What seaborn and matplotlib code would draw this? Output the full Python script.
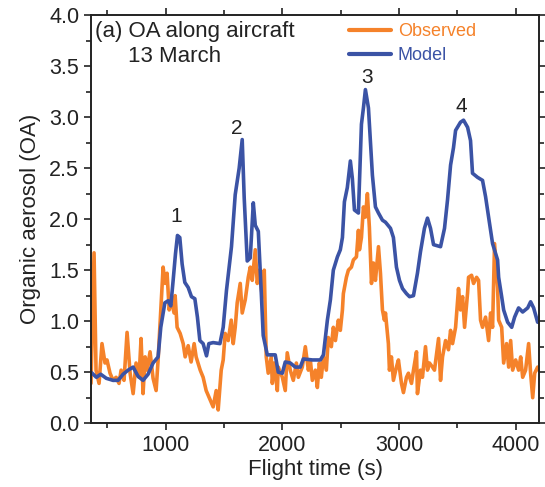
import pandas as pd
import matplotlib
matplotlib.use("Agg")
import matplotlib.pyplot as plt
import seaborn as sns
from matplotlib.ticker import MultipleLocator, FormatStrFormatter

# Observed OA (orange) - flight time (s) and value
obs_t = [360, 386, 403, 429, 454, 480, 497, 523, 549, 575, 600, 618, 643, 669, 695,
         721, 746, 772, 789, 806, 824, 841, 866, 892, 918, 935, 961, 978, 995, 1012,
         1030, 1047, 1072, 1081, 1098, 1124, 1150, 1167, 1193, 1218, 1244, 1261, 1296,
         1321, 1347, 1381, 1407, 1433, 1450, 1476, 1493, 1510, 1536, 1562, 1579, 1596,
         1613, 1639, 1656, 1682, 1708, 1725, 1742, 1768, 1785, 1802, 1828, 1845, 1862,
         1879, 1905, 1914, 1931, 1957, 1965, 2000, 2025, 2042, 2068, 2094, 2120, 2137,
         2171, 2197, 2223, 2240, 2257, 2283, 2300, 2317, 2334, 2352, 2377, 2394, 2420,
         2437, 2455, 2480, 2497, 2515, 2523, 2549, 2566, 2592, 2609, 2635, 2652, 2661,
         2678, 2695, 2712, 2729, 2746, 2764, 2781, 2798, 2824, 2841, 2858, 2875, 2884,
         2909, 2918, 2935, 2952, 2978, 2995, 3021, 3038, 3064, 3081, 3107, 3124, 3150,
         3158, 3184, 3201, 3227, 3244, 3261, 3287, 3304, 3339, 3356, 3373, 3399, 3424,
         3442, 3459, 3485, 3510, 3527, 3545, 3562, 3588, 3596, 3622, 3639, 3665, 3682,
         3699, 3716, 3742, 3768, 3785, 3802, 3819, 3845, 3854, 3880, 3897, 3922, 3940,
         3957, 3974, 4000, 4025, 4043, 4060, 4085, 4111, 4128, 4146, 4163, 4188, 4200]
obs_oa = [0.39, 1.67, 0.52, 0.39, 0.78, 0.59, 0.62, 0.49, 0.42, 0.45, 0.39, 0.52, 0.42,
          0.89, 0.49, 0.29, 0.59, 0.45, 0.83, 0.29, 0.65, 0.52, 0.70, 0.44, 0.32, 0.62,
          1.18, 1.53, 1.37, 1.47, 1.11, 1.21, 1.08, 1.25, 0.94, 0.88, 0.78, 0.65, 0.76,
          0.60, 0.78, 0.65, 0.52, 0.45, 0.32, 0.23, 0.16, 0.32, 0.13, 0.52, 0.62, 0.88,
          0.81, 1.01, 0.78, 0.94, 1.18, 1.37, 1.08, 1.21, 1.43, 1.53, 1.40, 1.70, 1.37,
          1.50, 1.24, 1.50, 0.65, 0.49, 0.65, 0.39, 0.59, 0.32, 0.55, 0.45, 0.32, 0.69,
          0.52, 0.42, 0.59, 0.45, 0.55, 0.75, 0.52, 0.62, 0.42, 0.52, 0.35, 0.59, 0.45,
          0.65, 0.52, 0.84, 0.75, 0.94, 0.81, 1.01, 0.91, 1.11, 1.27, 1.43, 1.50, 1.53,
          1.60, 1.63, 1.89, 1.70, 1.82, 2.12, 2.02, 2.25, 1.92, 1.37, 1.57, 1.40, 1.73,
          1.47, 1.11, 1.01, 1.08, 0.78, 0.52, 0.65, 0.42, 0.55, 0.62, 0.39, 0.30, 0.45,
          0.49, 0.39, 0.52, 0.70, 0.29, 0.52, 0.45, 0.75, 0.52, 0.59, 0.55, 0.52, 0.83,
          0.42, 0.65, 0.81, 0.72, 0.91, 0.78, 0.94, 1.32, 1.11, 1.24, 0.94, 1.28, 1.43,
          1.45, 1.37, 1.43, 1.40, 1.01, 0.94, 1.04, 0.81, 1.08, 0.94, 1.76, 1.33, 1.01,
          0.94, 0.59, 0.78, 0.55, 0.81, 0.52, 0.62, 0.52, 0.65, 0.45, 0.52, 0.78, 0.49,
          0.25, 0.49, 0.55, 0.52]

# Model OA (blue)
mod_t = [360, 406, 443, 491, 549, 592, 635, 678, 721, 763, 806, 849, 892, 935, 958,
         993, 1021, 1044, 1064, 1084, 1101, 1121, 1141, 1164, 1193, 1221, 1250, 1272,
         1293, 1321, 1350, 1370, 1407, 1465, 1493, 1521, 1564, 1596, 1630, 1656, 1673,
         1699, 1725, 1751, 1768, 1794, 1819, 1836, 1871, 1939, 1965, 2000, 2025, 2068,
         2111, 2154, 2180, 2257, 2326, 2352, 2386, 2412, 2437, 2472, 2497, 2515, 2532,
         2557, 2583, 2600, 2618, 2652, 2678, 2695, 2712, 2738, 2772, 2798, 2824, 2858,
         2884, 2927, 2952, 2978, 3004, 3030, 3064, 3090, 3124, 3158, 3184, 3218, 3244,
         3270, 3296, 3356, 3390, 3416, 3442, 3467, 3485, 3527, 3553, 3588, 3613, 3630,
         3673, 3716, 3742, 3768, 3802, 3845, 3854, 3880, 3897, 3931, 3966, 3991, 4025,
         4060, 4103, 4128, 4154, 4188, 4200]
mod_oa = [0.50, 0.45, 0.48, 0.44, 0.42, 0.42, 0.48, 0.52, 0.55, 0.46, 0.42, 0.48, 0.59,
          0.65, 0.94, 1.18, 1.20, 1.15, 1.40, 1.66, 1.84, 1.82, 1.56, 1.38, 1.33, 1.24,
          1.22, 1.04, 0.81, 0.78, 0.66, 0.78, 0.79, 0.78, 0.94, 1.30, 1.73, 2.24, 2.50,
          2.78, 2.21, 1.59, 1.62, 2.16, 1.94, 1.88, 1.29, 0.86, 0.67, 0.67, 0.50, 0.49,
          0.60, 0.59, 0.55, 0.55, 0.63, 0.62, 0.62, 0.67, 1.01, 1.21, 1.50, 1.63, 1.70,
          1.82, 2.17, 2.31, 2.57, 2.40, 2.09, 2.06, 2.93, 3.09, 3.27, 3.09, 2.43, 2.12,
          2.06, 1.99, 1.97, 1.91, 1.82, 1.53, 1.40, 1.32, 1.27, 1.24, 1.25, 1.47, 1.68,
          1.91, 2.01, 1.91, 1.75, 1.73, 1.91, 2.19, 2.53, 2.70, 2.87, 2.95, 2.97, 2.90,
          2.77, 2.45, 2.41, 2.38, 2.22, 2.02, 1.76, 1.60, 1.43, 1.24, 1.11, 0.99, 0.94,
          1.04, 1.13, 1.09, 1.13, 1.19, 1.13, 0.99, 0.99]

# peak labels
peak_names = ["1", "2", "3", "4"]
peak_t = [1090, 1613, 2729, 3536]
peak_y = [2.03, 2.89, 3.39, 3.10]

c_obs = "#F5822A"
c_mod = "#3B53A5"

df = pd.concat([
    pd.DataFrame({"t": obs_t, "oa": obs_oa, "series": "Observed"}),
    pd.DataFrame({"t": mod_t, "oa": mod_oa, "series": "Model"}),
], ignore_index=True)

sns.set_style("ticks")
plt.rcParams["font.family"] = ["Liberation Sans", "DejaVu Sans"]

fig = plt.figure(figsize=(5.45, 4.87), dpi=100)
ax = fig.add_axes([0.167, 0.131, 0.822, 0.838])

sns.lineplot(data=df, x="t", y="oa", hue="series", hue_order=["Observed", "Model"],
             palette={"Observed": c_obs, "Model": c_mod}, sort=False, estimator=None,
             linewidth=2.6, ax=ax)

ax.set_xlim(360, 4200)
ax.set_ylim(0, 4)
ax.xaxis.set_major_locator(MultipleLocator(1000))
ax.xaxis.set_minor_locator(MultipleLocator(500))
ax.yaxis.set_major_locator(MultipleLocator(0.5))
ax.yaxis.set_minor_locator(MultipleLocator(0.25))
ax.yaxis.set_major_formatter(FormatStrFormatter("%.1f"))
ax.tick_params(which="both", direction="out", top=True, right=True, width=1.2,
               labelsize=15.5, colors="#222222")
ax.tick_params(which="major", length=5)
ax.tick_params(which="minor", length=3.5)
for s in ax.spines.values():
    s.set_linewidth(1.4)
    s.set_color("#222222")

ax.set_xlabel("Flight time (s)", fontsize=16, color="#222222", labelpad=2)
ax.set_ylabel("Organic aerosol (OA)", fontsize=16, color="#222222", labelpad=6)

ax.text(0.008, 0.985, "(a) OA along aircraft", transform=ax.transAxes, fontsize=16,
        va="top", ha="left", color="#222222")
ax.text(0.082, 0.925, "13 March", transform=ax.transAxes, fontsize=16,
        va="top", ha="left", color="#222222")

for name, t, y in zip(peak_names, peak_t, peak_y):
    ax.text(t, y, name, fontsize=15, ha="center", va="center", color="#222222")

leg = ax.legend(loc="upper left", bbox_to_anchor=(0.54, 1.02), frameon=False,
                fontsize=13, handlelength=2.3, handletextpad=0.4, labelspacing=0.4,
                title=None)
for txt, line in zip(leg.get_texts(), leg.get_lines()):
    txt.set_color(line.get_color())
    line.set_linewidth(3)

fig.savefig("out.png", dpi=100)
